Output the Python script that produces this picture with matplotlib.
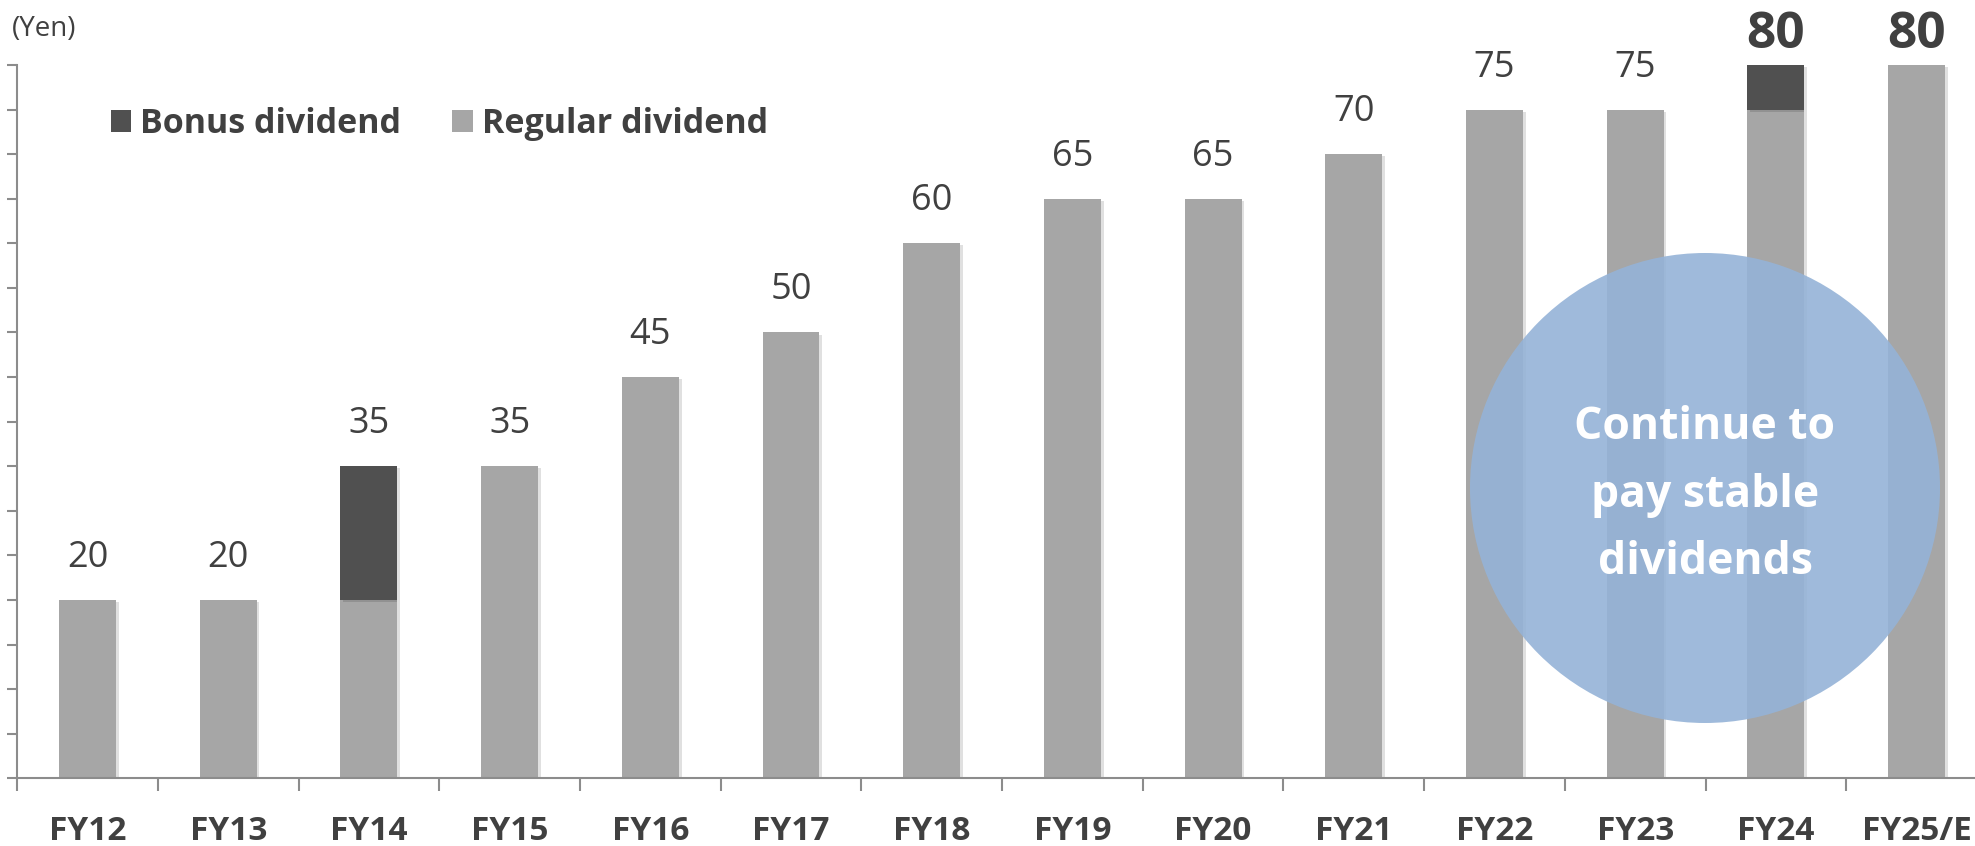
import matplotlib
matplotlib.use("Agg")
import matplotlib.pyplot as plt
from matplotlib.patches import Patch, Ellipse
import matplotlib.patheffects as pe
import numpy as np

# Dividend per share (yen)
categories = ["FY12", "FY13", "FY14", "FY15", "FY16", "FY17", "FY18",
              "FY19", "FY20", "FY21", "FY22", "FY23", "FY24", "FY25/E"]
regular_dividend = [20, 20, 20, 35, 45, 50, 60, 65, 65, 70, 75, 75, 75, 80]
bonus_dividend = [0, 0, 15, 0, 0, 0, 0, 0, 0, 0, 0, 0, 5, 0]
emphasized = ["FY24", "FY25/E"]
message = "Continue to\npay stable\ndividends"

REGULAR_COLOR = "#a6a6a6"
BONUS_COLOR = "#505050"
TEXT_COLOR = "#404040"
AXIS_COLOR = "#8c8c8c"
CIRCLE_COLOR = "#95b3d7"

plt.rcParams["font.family"] = ["Open Sans", "DejaVu Sans"]

W, H = 1975, 846
DPI = 100
fig = plt.figure(figsize=(W / DPI, H / DPI), dpi=DPI)
fig.patch.set_facecolor("white")

# axes box in pixels: left 17, baseline at y=778, top (80 yen) at y=65
ax_left, ax_right = 17.15, 17.15 + 14 * 140.7
ax_top, ax_base = 65.0, 778.3
ax = fig.add_axes([ax_left / W, (H - ax_base) / H,
                   (ax_right - ax_left) / W, (ax_base - ax_top) / H])
ax.set_facecolor("none")

x = np.arange(len(categories))
regular = np.array(regular_dividend)
bonus = np.array(bonus_dividend)
total = regular + bonus

shadow = [pe.SimplePatchShadow(offset=(2, -1.5), shadow_rgbFace="#000000", alpha=0.12),
          pe.Normal()]
bar_w = 0.405
b1 = ax.bar(x, regular, width=bar_w, color=REGULAR_COLOR, zorder=2)
b2 = ax.bar(x, bonus, width=bar_w, bottom=regular, color=BONUS_COLOR, zorder=2)
for r in list(b1) + list(b2):
    if r.get_height() > 0:
        r.set_path_effects(shadow)

ax.set_xlim(-0.5, len(categories) - 0.5)
ax.set_ylim(0, 80)

# value labels above each bar
for xi, cat, t in zip(x, categories, total):
    if cat in emphasized:
        ax.annotate(f"{t}", xy=(xi, t), xytext=(0, 12.2), textcoords="offset points",
                    ha="center", va="baseline", fontsize=37, fontweight="bold",
                    color=TEXT_COLOR, annotation_clip=False)
    else:
        ax.annotate(f"{t}", xy=(xi, t), xytext=(0, 23.8), textcoords="offset points",
                    ha="center", va="baseline", fontsize=26, color=TEXT_COLOR,
                    annotation_clip=False)

# spines and ticks
for s in ["top", "right"]:
    ax.spines[s].set_visible(False)
for s in ["left", "bottom"]:
    ax.spines[s].set_color(AXIS_COLOR)
    ax.spines[s].set_linewidth(1.5)

ax.set_yticks(np.arange(0, 81, 5))
ax.set_yticklabels([])
ax.tick_params(axis="y", direction="out", length=7.2, width=1.5, color=AXIS_COLOR)

ax.set_xticks(x)
ax.set_xticklabels(categories, fontsize=24, fontweight="bold", color=TEXT_COLOR)
ax.set_xticks(np.arange(-0.5, len(categories), 1.0), minor=True)
ax.tick_params(axis="x", which="major", length=0, pad=44.6)
ax.tick_params(axis="x", which="minor", direction="out", length=9.4, width=1.5,
               color=AXIS_COLOR)
for lbl in ax.get_xticklabels():
    lbl.set_verticalalignment("baseline")

# unit label
fig.text(12 / W, 1 - 29 / H, "(Yen)", fontsize=20, color=TEXT_COLOR,
         ha="left", va="center")

# legend
handles = [Patch(facecolor=BONUS_COLOR, label="Bonus dividend"),
           Patch(facecolor=REGULAR_COLOR, label="Regular dividend")]
leg = ax.legend(handles=handles, ncol=2, frameon=False, loc="center left",
                bbox_to_anchor=(111 / W, 1 - 124 / H), bbox_transform=fig.transFigure,
                prop={"size": 24.5, "weight": "bold"}, handlelength=0.6,
                handleheight=0.6, handletextpad=0.26, columnspacing=1.5,
                borderpad=0, borderaxespad=0)
for t in leg.get_texts():
    t.set_color(TEXT_COLOR)

# highlight circle with message
cx, cy, r = 1705, 488, 235
circ = Ellipse((cx / W, 1 - cy / H), 2 * r / W, 2 * r / H, transform=fig.transFigure,
               facecolor=CIRCLE_COLOR, edgecolor="none", alpha=0.9, zorder=5,
               clip_on=False)
ax.add_artist(circ)
ax.text(cx / W, 1 - 495 / H, message, transform=fig.transFigure, ha="center",
        va="center", multialignment="center", fontsize=32, fontweight="bold",
        color="white", linespacing=1.66, zorder=6)

fig.savefig("out.png", dpi=DPI, facecolor="white")
